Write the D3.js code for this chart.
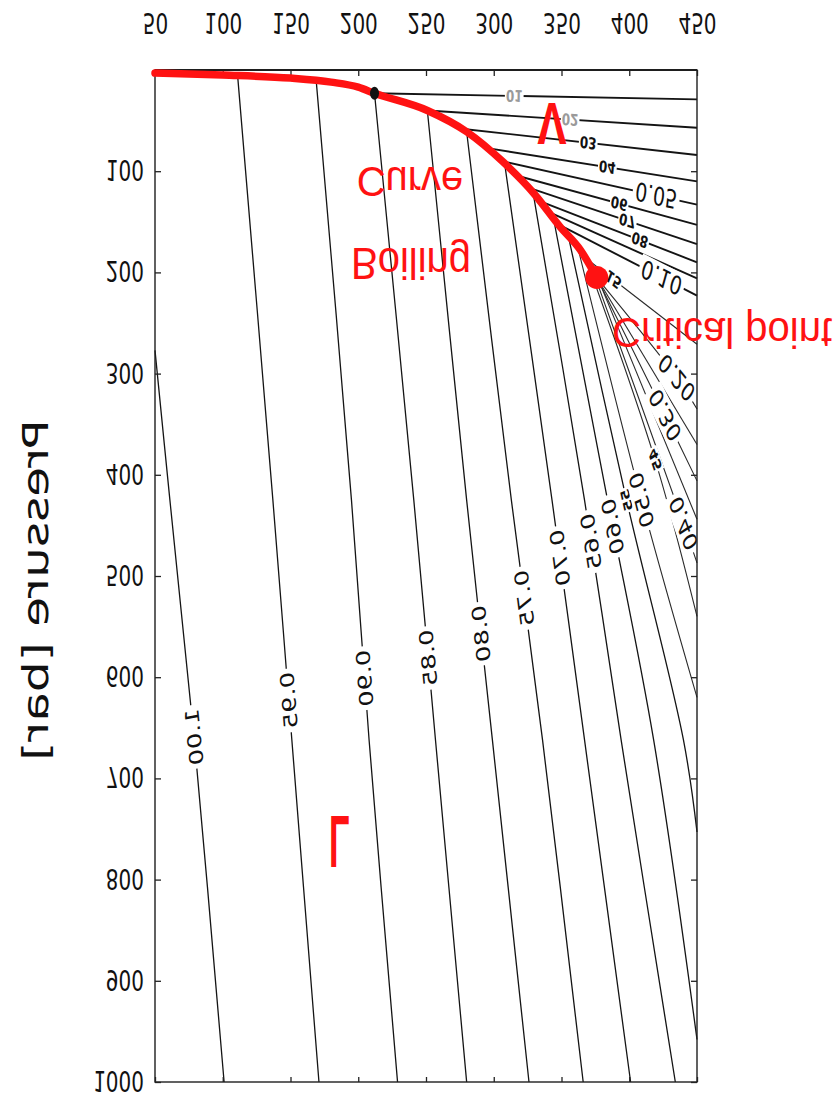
<!DOCTYPE html>
<html>
<head>
<meta charset="utf-8">
<script src="https://cdn.jsdelivr.net/npm/d3@7"></script>
<style>
  html, body { margin: 0; background: #fff; }
  svg { display: block; }
</style>
</head>
<body>
<svg id="chart" width="839" height="1097"></svg>
<script>
// Axis ticks: temperature [°C] and pressure [bar]
const tempTicks = [50, 100, 150, 200, 250, 300, 350, 400, 450];
const pressTicks = [100, 200, 300, 400, 500, 600, 700, 800, 900, 1000];

// Boiling (saturation) curve of water up to the critical point
const boilT = [50, 100, 150, 180, 200, 212, 251, 280, 307, 329, 349, 364, 376];
const boilP = [3, 5, 8, 12, 17, 23, 40, 61, 91, 121, 155, 178, 205];
const criticalPoint = [376, 205];
const markedPoint = [212, 23];

// Isochores: density [g/cm³] and their [T, p] vertices
const isoDensity = [1.00, 0.95, 0.90, 0.85, 0.80, 0.75, 0.70, 0.65, 0.60, 0.55,
                    0.50, 0.45, 0.40, 0.35, 0.30, 0.25, 0.20, 0.15, 0.10, 0.09,
                    0.08, 0.07, 0.06, 0.05, 0.04, 0.03, 0.02, 0.01];
const isoPaths = [
  [[50, 277], [61, 425], [79, 662], [101, 1000]],
  [[111, 6], [137, 425], [151, 662], [171, 1000]],
  [[169, 11], [195, 425], [208, 662], [229, 1000]],
  [[212, 23], [241, 425], [257, 662], [280, 1000]],
  [[251, 40], [280, 425], [299, 662], [326, 1000]],
  [[280, 61], [313, 425], [336, 662], [366, 1000]],
  [[308, 92], [343, 425], [367, 662], [401, 1000]],
  [[329, 121], [367, 425], [394, 662], [434, 1000]],
  [[344, 146], [384, 425], [418, 662], [450, 958]],
  [[355, 164], [398, 425], [440, 662], [450, 753]],
  [[362, 175], [409, 425], [450, 620]],
  [[368, 186], [419, 385], [450, 540]],
  [[372, 194], [440, 448], [450, 487]],
  [[375, 200], [450, 444]],
  [[376, 205], [426, 340], [450, 406]],
  [[376, 205], [450, 370]],
  [[374, 202], [435, 304], [450, 335]],
  [[368, 186], [450, 271]],
  [[347, 152], [450, 223]],
  [[340, 140], [450, 206]],
  [[333, 129], [450, 190]],
  [[325, 116], [450, 172]],
  [[316, 104], [450, 153]],
  [[306, 90], [450, 133]],
  [[294, 77], [450, 110]],
  [[276, 58], [450, 84]],
  [[251, 40], [450, 57]],
  [[212, 23], [450, 29]]
];
// Pressure at which each isochore carries its label (null: unlabelled)
const isoLabelP = [659, 623, 601, 581, 557, 522, 482, 466, 451, 425,
                   425, 385, 448, null, 341, null, 304, 207, 205, null,
                   168, 149, 132, 124, 96, 72, 49, 25.6];
// Small two-digit labels for the intermediate isochores
const isoMinor = [false, false, false, false, false, false, false, false, false, true,
                  false, true, false, false, false, false, false, true, false, false,
                  true, true, true, false, true, true, true, true];

const W = 839, H = 1097;
const RED = "#ff1212";
const svg = d3.select("#chart");
svg.append("rect").attr("width", W).attr("height", H).attr("fill", "#fff");

const x = d3.scaleLinear().domain([50, 450]).range([155, 697]);
const y = d3.scaleLinear().domain([0, 1000]).range([70, 1082]);

// Text is drawn mirrored top-to-bottom and stretched vertically by s;
// angleDeg is the reading direction on screen.
function mirrorT(px, py, angleDeg, s) {
  const a = angleDeg * Math.PI / 180;
  const t0 = -Math.atan2(Math.sin(a) / s, Math.cos(a)) * 180 / Math.PI;
  return `translate(${px},${py}) scale(1,${-s}) rotate(${t0})`;
}

const iso = isoDensity.map((rho, i) => ({
  rho, pts: isoPaths[i], labelP: isoLabelP[i], minor: isoMinor[i]
}));

// Isochore lines
const isoLine = d3.line().x(d => x(d[0])).y(d => y(d[1]))
  .curve(d3.curveCatmullRom.alpha(0.5));
svg.append("g").selectAll("path").data(iso).join("path")
  .attr("d", d => isoLine(d.pts))
  .attr("fill", "none")
  .attr("stroke", d => (d.rho <= 0.5 && d.rho > 0.10) ? "#2a2a2a" : "#141414")
  .attr("stroke-width", d => d.rho <= 0.10 ? 1.9 : (d.rho <= 0.5 ? 1.1 : 1.3));

// Isochore labels, each on a white patch that breaks its line
function pointAt(pts, p) {
  for (let i = 0; i < pts.length - 1; i++) {
    const a = pts[i], b = pts[i + 1];
    if (p >= a[1] && p <= b[1]) {
      const t = (p - a[1]) / (b[1] - a[1]);
      return { T: a[0] + t * (b[0] - a[0]), p, a, b };
    }
  }
  return null;
}
const fmt2 = d3.format(".2f");
const labelled = iso.filter(d => d.labelP != null).map(d => {
  const q = pointAt(d.pts, d.labelP);
  const ang = Math.atan2(y(q.b[1]) - y(q.a[1]), x(q.b[0]) - x(q.a[0])) * 180 / Math.PI;
  return { ...d, px: x(q.T), py: y(q.p), ang };
});
const labs = svg.append("g").selectAll("g").data(labelled).join("g")
  .attr("transform", d => mirrorT(d.px, d.py, d.ang, 1.35));
labs.append("rect").attr("fill", "#fff");
labs.append("text")
  .attr("text-anchor", "middle")
  .attr("dy", "0.36em")
  .attr("font-family", "DejaVu Sans, sans-serif")
  .attr("font-size", d => d.minor ? 12 : 19)
  .attr("font-weight", d => d.minor ? "bold" : "normal")
  .attr("fill", d => d.minor && d.rho <= 0.02 ? "#9a9a9a" : "#111")
  .text(d => d.minor ? fmt2(d.rho).slice(2) : fmt2(d.rho));
labs.each(function (d) {
  const g = d3.select(this);
  const b = g.select("text").node().getBBox();
  const pad = d.minor ? 1 : 2.5;
  g.select("rect")
    .attr("x", b.x - pad).attr("y", b.y + 1)
    .attr("width", b.width + 2 * pad).attr("height", b.height - 2);
});

// Frame
svg.append("rect")
  .attr("x", x(50)).attr("y", y(0))
  .attr("width", x(450) - x(50)).attr("height", y(1000) - y(0))
  .attr("fill", "none").attr("stroke", "#1e1e1e").attr("stroke-width", 1.4);
svg.append("line")
  .attr("x1", x(50)).attr("x2", x(450)).attr("y1", y(0)).attr("y2", y(0))
  .attr("stroke", "#1e1e1e").attr("stroke-width", 2.2);

// Temperature axis (labelled, along the top edge)
const topAxis = svg.append("g").attr("transform", `translate(0,${y(0)})`)
  .call(d3.axisBottom(x).tickValues(tempTicks).tickSize(6).tickFormat(d3.format("d")));
topAxis.attr("font-family", "DejaVu Sans, sans-serif").attr("font-size", 20);
topAxis.select(".domain").remove();
topAxis.selectAll("line").attr("stroke", "#222").attr("stroke-width", 1.3);
topAxis.selectAll("text")
  .attr("y", null).attr("dy", null)
  .attr("fill", "#111")
  .attr("transform", `translate(0,${13 - y(0)}) scale(1,-1.45)`);

// Pressure axis (labelled, along the left edge)
const leftAxis = svg.append("g").attr("transform", `translate(${x(50)},0)`)
  .call(d3.axisRight(y).tickValues(pressTicks).tickSize(6).tickFormat(d3.format("d")));
leftAxis.attr("font-family", "DejaVu Sans, sans-serif").attr("font-size", 20)
  .attr("text-anchor", "end");
leftAxis.select(".domain").remove();
leftAxis.selectAll("line").attr("stroke", "#222").attr("stroke-width", 1.3);
leftAxis.selectAll("text")
  .attr("x", -11).attr("dy", null)
  .attr("fill", "#111")
  .attr("transform", "translate(0,-11.5) scale(1,-1.45)");

// Unlabelled ticks on the right and bottom edges
const rightAxis = svg.append("g").attr("transform", `translate(${x(450)},0)`)
  .call(d3.axisLeft(y).tickValues(pressTicks).tickSize(6).tickFormat(""));
rightAxis.select(".domain").remove();
rightAxis.selectAll("line").attr("stroke", "#222").attr("stroke-width", 1.3);
const bottomAxis = svg.append("g").attr("transform", `translate(0,${y(1000)})`)
  .call(d3.axisTop(x).tickValues(tempTicks).tickSize(5).tickFormat(""));
bottomAxis.select(".domain").remove();
bottomAxis.selectAll("line").attr("stroke", "#222").attr("stroke-width", 1.3);

// Axis title
svg.append("text")
  .attr("transform", mirrorT(48, 590, 90, 1.35))
  .attr("text-anchor", "middle")
  .attr("font-family", "DejaVu Sans, sans-serif")
  .attr("font-size", 36)
  .attr("fill", "#111")
  .text("Pressure [bar]");

// Boiling curve
const boil = boilT.map((t, i) => [t, boilP[i]]);
svg.append("path")
  .attr("d", d3.line().x(d => x(d[0])).y(d => y(d[1])).curve(d3.curveMonotoneX)(boil))
  .attr("fill", "none").attr("stroke", RED)
  .attr("stroke-width", 7.5).attr("stroke-linecap", "round");

svg.append("ellipse")
  .attr("cx", x(markedPoint[0])).attr("cy", y(markedPoint[1]))
  .attr("rx", 4.5).attr("ry", 6.5).attr("fill", "#111");
svg.append("circle")
  .attr("cx", x(criticalPoint[0])).attr("cy", y(criticalPoint[1]))
  .attr("r", 11.5).attr("fill", RED);

// Annotations
const redText = (txt, px, py, sx, sy, size, weight, anchor) =>
  svg.append("text")
    .attr("transform", `translate(${px},${py}) scale(${sx},${-sy})`)
    .attr("text-anchor", anchor)
    .attr("font-family", "Liberation Sans, Arial, sans-serif")
    .attr("font-size", size).attr("font-weight", weight)
    .attr("fill", RED).text(txt);

redText("Boiling", 411, 248, 1, 1.1, 40, "normal", "middle");
redText("Curve", 410, 167, 1, 1.05, 40, "normal", "middle");
redText("Critical point", 612, 318, 1, 1.05, 40, "normal", "start");
redText("V", 552, 103, 1, 1.35, 44, "bold", "middle");
redText("L", 329, 816, 0.85, 1.85, 40, "bold", "start");
</script>
</body>
</html>
